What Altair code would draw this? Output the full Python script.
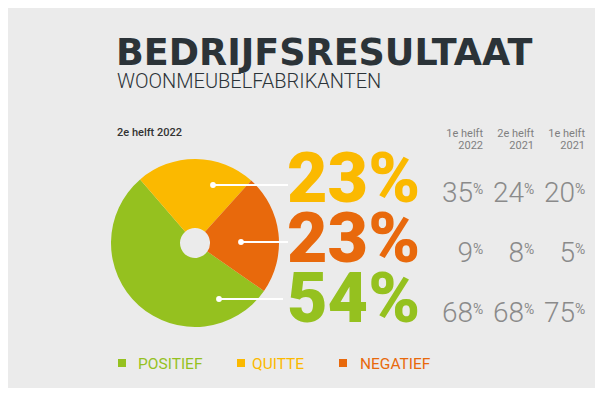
import math
import altair as alt
import pandas as pd

# ---- data ----
categories = ["POSITIEF", "QUITTE", "NEGATIEF"]
current_values = [54, 23, 23]          # 2e helft 2022
colors = ["#95c11f", "#fbb900", "#e8690c"]
row_order = ["QUITTE", "NEGATIEF", "POSITIEF"]
pie_order = ["NEGATIEF", "POSITIEF", "QUITTE"]
period_line1 = ["1e helft", "2e helft", "1e helft"]
period_line2 = ["2022", "2021", "2021"]
hist_quitte = [35, 24, 20]
hist_negatief = [9, 8, 5]
hist_positief = [68, 68, 75]
title = "BEDRIJFSRESULTAAT"
subtitle = "WOONMEUBELFABRIKANTEN"
pie_label = "2e helft 2022"

# ---- tables ----
periods = [a + " " + b for a, b in zip(period_line1, period_line2)]
pie_df = pd.DataFrame({
    "cat": categories,
    "value": current_values,
    "ord": [pie_order.index(c) for c in categories],
})
hist = {"QUITTE": hist_quitte, "NEGATIEF": hist_negatief, "POSITIEF": hist_positief}
hist_df = pd.DataFrame([
    {"cat": c, "period": p, "value": v}
    for c in row_order for p, v in zip(periods, hist[c])
])
head_df = pd.DataFrame({"period": periods, "l1": period_line1, "l2": period_line2})

# ---- layout (page px minus 8px body margin) ----
O = 8
BG = "#ebebeb"
DARK = "#2b3338"
GREY = "#8a8a8a"
CX, CY, R = 195 - O, 243 - O, 84
one = pd.DataFrame({"k": [0]})

color_scale = alt.Scale(domain=categories, range=colors)
row_y = alt.Y("cat:N", axis=None,
              scale=alt.Scale(type="point", domain=row_order, range=[202 - O, 322 - O], padding=0))
col_x = alt.X("period:N", axis=None,
              scale=alt.Scale(type="point", domain=periods, range=[473 - O, 575 - O], padding=0))

layers = []

# title / subtitle / pie label
layers.append(alt.Chart(one).mark_text(
    align="left", baseline="alphabetic", font="DejaVu Sans", fontWeight="bold",
    fontSize=36.5, color=DARK).encode(x=alt.value(116 - O), y=alt.value(65 - O), text=alt.value(title)))
layers.append(alt.Chart(one).mark_text(
    align="left", baseline="alphabetic", font="Roboto", fontWeight=300,
    fontSize=20, color=DARK).encode(x=alt.value(117 - O), y=alt.value(88 - O), text=alt.value(subtitle)))
layers.append(alt.Chart(one).mark_text(
    align="left", baseline="middle", font="Roboto", fontWeight=500,
    fontSize=11, color="#333333").encode(x=alt.value(117 - O), y=alt.value(133 - O), text=alt.value(pie_label)))

# pie
start = math.radians(42)
layers.append(alt.Chart(pie_df).mark_arc(outerRadius=R, innerRadius=15).encode(
    theta=alt.Theta("value:Q", stack=True,
                    scale=alt.Scale(type="linear", domain=[0, 100], range=[start, start + 2 * math.pi])),
    color=alt.Color("cat:N", scale=color_scale, legend=None),
    order=alt.Order("ord:Q"),
    x=alt.value(CX), y=alt.value(CY),
))

# leader lines with dots (row order: quitte, negatief, positief)
leaders = [(213, 288, 185), (241, 288, 242), (219, 283, 299)]
for x1, x2, y in leaders:
    layers.append(alt.Chart(one).mark_rule(color="white", strokeWidth=2).encode(
        x=alt.value(x1 - O), x2=alt.value(x2 - O), y=alt.value(y - O)))
    layers.append(alt.Chart(one).mark_circle(color="white", opacity=1, size=34).encode(
        x=alt.value(x1 - O), y=alt.value(y - O)))

# big percentages
layers.append(alt.Chart(pie_df).transform_calculate(
    label="datum.value + '%'").mark_text(
    align="left", baseline="alphabetic", font="Roboto", fontWeight=900, fontSize=70).encode(
    x=alt.value(287 - O), y=row_y, text="label:N",
    color=alt.Color("cat:N", scale=color_scale, legend=None)))

# table headers
layers.append(alt.Chart(head_df).mark_text(
    align="right", baseline="middle", font="Roboto", fontSize=11, color="#7f7f7f", dx=10).encode(
    x=col_x, y=alt.value(134 - O), text="l1:N"))
layers.append(alt.Chart(head_df).mark_text(
    align="right", baseline="middle", font="Roboto", fontSize=11, color="#7f7f7f", dx=10).encode(
    x=col_x, y=alt.value(146 - O), text="l2:N"))

# table values
layers.append(alt.Chart(hist_df).mark_text(
    align="right", baseline="alphabetic", font="Roboto", fontWeight=300, fontSize=28, color=GREY).encode(
    x=col_x, y=row_y, text="value:Q"))
layers.append(alt.Chart(hist_df).mark_text(
    align="left", baseline="alphabetic", font="Roboto", fontSize=14, color=GREY, dy=-8.5, dx=0).encode(
    x=col_x, y=row_y, text=alt.value("%")))

# legend
legend_pos = [(122, 138), (241, 252), (343, 360)]
for cat, col, (sx, tx) in zip(categories, colors, legend_pos):
    layers.append(alt.Chart(one).mark_square(color=col, opacity=1, size=64).encode(
        x=alt.value(sx - O), y=alt.value(363 - O)))
    layers.append(alt.Chart(one).mark_text(
        align="left", baseline="middle", font="Roboto", fontSize=15.5, color=col).encode(
        x=alt.value(tx - O), y=alt.value(364 - O), text=alt.value(cat)))

chart = alt.layer(*layers).properties(
    width=587, height=380, autosize=alt.AutoSizeParams(type="none"), padding=0,
    background=BG,
).configure_view(stroke=None)

chart.save("out.html", embed_options={"renderer": "svg", "actions": False})
